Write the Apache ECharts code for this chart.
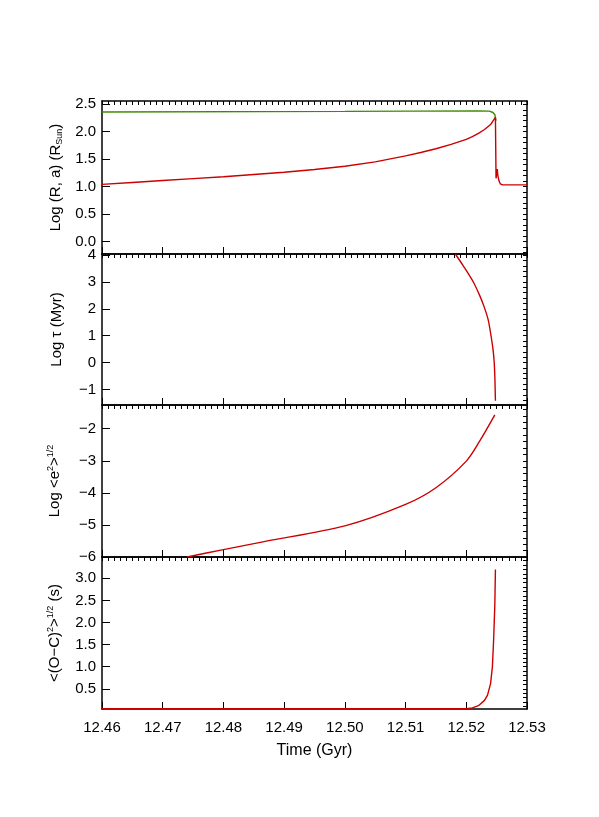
<!DOCTYPE html>
<html>
<head>
<meta charset="utf-8">
<script src="https://cdn.jsdelivr.net/npm/echarts@6/dist/echarts.min.js"></script>
<style>html,body{margin:0;background:#fff}#chart{width:599px;height:817px}</style>
</head>
<body>
<div id="chart"></div>
<script>
var xTicks = [12.46, 12.47, 12.48, 12.49, 12.50, 12.51, 12.52, 12.53];

var radiusR = [[12.46,1.04],[12.465,1.075],[12.47,1.11],[12.475,1.145],[12.48,1.18],[12.485,1.22],[12.49,1.26],[12.495,1.31],[12.50,1.37],[12.505,1.45],[12.51,1.56],[12.5125,1.62],[12.515,1.69],[12.5175,1.77],[12.52,1.86],[12.521,1.91],[12.522,1.97],[12.523,2.04],[12.524,2.13],[12.5248,2.26],[12.5249,1.15],[12.5251,1.32],[12.5252,1.2],[12.5254,1.1],[12.5256,1.05],[12.526,1.03],[12.53,1.03]];
var axisA = [[12.46,2.36],[12.50,2.37],[12.522,2.38],[12.5238,2.375],[12.5244,2.35],[12.5247,2.31],[12.5249,2.2]];
var logTau = [[12.5182,4.04],[12.5195,3.6],[12.5212,2.98],[12.5222,2.5],[12.5229,2.1],[12.5236,1.6],[12.524,1.1],[12.5244,0.5],[12.5246,0.0],[12.5247,-0.5],[12.5248,-1.42]];
var logEcc = [[12.474,-6.0],[12.48,-5.77],[12.4867,-5.52],[12.50,-5.03],[12.51,-4.36],[12.515,-3.84],[12.52,-3.01],[12.5222,-2.39],[12.5247,-1.57]];
var omc = [[12.46,0.05],[12.52,0.05],[12.521,0.07],[12.522,0.12],[12.523,0.24],[12.5235,0.36],[12.524,0.62],[12.5243,1.0],[12.5245,1.6],[12.5247,2.4],[12.5248,3.2]];

var y1Ticks = [0.0, 0.5, 1.0, 1.5, 2.0, 2.5];
var y2Ticks = [-1, 0, 1, 2, 3, 4];
var y3Ticks = [-6, -5, -4, -3, -2];
var y4Ticks = [0.5, 1.0, 1.5, 2.0, 2.5, 3.0];

var panels = [
  {top: 101, h: 153, min: -0.23, max: 2.56, ticks: y1Ticks, minor: 0.1, dec: 1,
   name: '{n|Log (R, a) (R}{sub|Sun}{n|)}'},
  {top: 254, h: 151, min: -1.58, max: 4.04, ticks: y2Ticks, minor: 0.2, dec: 0,
   name: '{n|Log τ (Myr)}'},
  {top: 405, h: 152, min: -6.0, max: -1.26, ticks: y3Ticks, minor: 0.2, dec: 0,
   name: '{n|Log <e}{sup|2}{n|>}{sup|1/2}'},
  {top: 557, h: 152, min: 0.045, max: 3.48, ticks: y4Ticks, minor: 0.1, dec: 1,
   name: '{n|<(O−C)}{sup|2}{n|>}{sup|1/2}{n| (s)}'}
];

function range(a, b, step) {
  var out = [];
  for (var v = a; v <= b + 1e-9; v += step) out.push(+v.toFixed(6));
  return out;
}
var xMinor = range(12.46, 12.53, 0.001);

var font = 'Liberation Sans';
var axisLine = {show: true, onZero: false, lineStyle: {color: '#000', width: 1.5}};
var rich = {
  n: {fontSize: 15, fontFamily: font, color: '#000'},
  sub: {fontSize: 9, fontFamily: font, color: '#000', padding: [8, 0, 0, 0]},
  sup: {fontSize: 9, fontFamily: font, color: '#000', padding: [0, 0, 9, 0]}
};

var grid = [], xAxis = [], yAxis = [];
panels.forEach(function (p, i) {
  grid.push({left: 102, right: 72, top: p.top, height: p.h});
  xAxis.push({
    type: 'value', gridIndex: i, position: 'bottom', min: 12.46, max: 12.53,
    axisLine: axisLine, splitLine: {show: false},
    axisTick: {inside: true, length: 7, customValues: xTicks, lineStyle: {color: '#000'}},
    axisLabel: {show: i === 3, customValues: xTicks, fontSize: 15, fontFamily: font, color: '#000', margin: 11,
      formatter: function (v) { return v.toFixed(2); }},
    name: i === 3 ? 'Time (Gyr)' : '', nameLocation: 'middle', nameGap: 34,
    nameTextStyle: {fontSize: 16, fontFamily: font, color: '#000'}
  });
  xAxis.push({
    type: 'value', gridIndex: i, position: 'top', min: 12.46, max: 12.53,
    axisLine: axisLine, splitLine: {show: false}, axisLabel: {show: false},
    axisTick: {inside: true, length: 4, customValues: xMinor, lineStyle: {color: '#000'}}
  });
  yAxis.push({
    type: 'value', gridIndex: i, position: 'left', min: p.min, max: p.max,
    axisLine: axisLine, splitLine: {show: false},
    axisTick: {inside: true, length: 8, customValues: p.ticks, lineStyle: {color: '#000'}},
    axisLabel: {customValues: p.ticks, fontSize: 15, fontFamily: font, color: '#000', margin: 6,
      formatter: function (v) { return (v < 0 ? '−' : '') + Math.abs(v).toFixed(p.dec); }},
    name: p.name, nameLocation: 'middle', nameGap: 38, nameRotate: 90,
    nameTextStyle: {rich: rich}
  });
  var minors = range(Math.ceil(p.min / p.minor) * p.minor, p.max, p.minor);
  yAxis.push({
    type: 'value', gridIndex: i, position: 'right', min: p.min, max: p.max,
    axisLine: axisLine, splitLine: {show: false}, axisLabel: {show: false},
    axisTick: {inside: true, length: 4, customValues: minors, lineStyle: {color: '#000'}}
  });
});

function line(data, idx, color, smooth) {
  return {type: 'line', data: data, xAxisIndex: idx * 2, yAxisIndex: idx * 2,
    showSymbol: false, symbol: 'none', smooth: smooth,
    lineStyle: {color: color, width: 1.4}, animation: false};
}

var myChart = echarts.init(document.getElementById('chart'), null, {renderer: 'canvas'});
var option = {
  animation: false,
  grid: grid, xAxis: xAxis, yAxis: yAxis,
  series: [
    line(axisA, 0, '#3f8a00', false),
    line(radiusR, 0, '#cc0000', false),
    line(logTau, 1, '#cc0000', 0.3),
    line(logEcc, 2, '#cc0000', 0.3),
    line(omc, 3, '#cc0000', false)
  ]
};
myChart.setOption(option);
</script>
</body>
</html>
